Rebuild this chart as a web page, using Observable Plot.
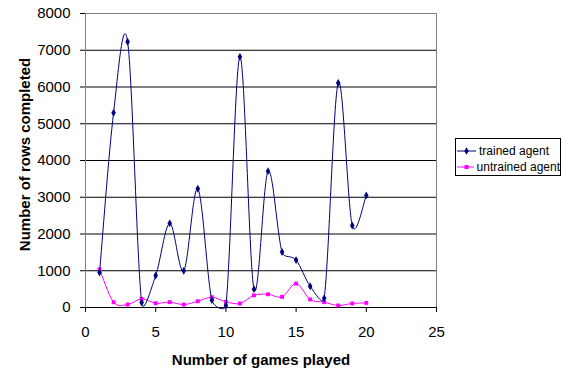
<!DOCTYPE html>
<html>
<head>
<meta charset="utf-8">
<script src="https://cdn.jsdelivr.net/npm/d3@7"></script>
<script src="https://cdn.jsdelivr.net/npm/@observablehq/plot@0.6"></script>
<style>
  html, body { margin: 0; padding: 0; background: #fff; }
  #wrap { position: relative; width: 564px; height: 371px; font-family: "Liberation Sans", Arial, sans-serif; }
  #legend { position: absolute; left: 455px; top: 138px; width: 106px; height: 38px; border: 1px solid #000;
            box-sizing: border-box; background: #fff; font-size: 12px; color: #000; padding-top: 4px; }
  #legend .row { display: flex; align-items: center; height: 16px; white-space: nowrap; }
  #legend svg { margin-left: 1px; margin-right: 3px; }
</style>
</head>
<body>
<div id="wrap"></div>
<script>
// Games played and rows completed per game
const games = [1, 2, 3, 4, 5, 6, 7, 8, 9, 10, 11, 12, 13, 14, 15, 16, 17, 18, 19, 20];
const trained = [950, 5300, 7230, 136, 870, 2290, 1000, 3230, 200, 55, 6820, 500, 3710, 1510, 1290, 580, 250, 6110, 2230, 3050];
const untrained = [1040, 145, 80, 235, 115, 145, 80, 170, 280, 155, 110, 330, 360, 290, 650, 220, 145, 55, 110, 125];

const xTicks = [0, 5, 10, 15, 20, 25];
const yTicks = [0, 1000, 2000, 3000, 4000, 5000, 6000, 7000, 8000];

const seriesNames = ["trained agent", "untrained agent"];
const seriesColors = ["#000080", "#ff00ff"];
const seriesSymbols = ["diamond", "square"];

const rows = games.map((g, i) => ({game: g, trained: trained[i], untrained: untrained[i]}));

// Smoothed line: cubic Bezier segments whose handles follow the neighbouring
// points (1/6 of the chord), with each handle capped relative to its segment
// so sharp drops don't swing far past the data.
function SmoothCapped(context) { this._context = context; }
SmoothCapped.prototype = {
  areaStart() { this._line = 0; },
  areaEnd() { this._line = NaN; },
  lineStart() { this._pts = []; },
  point(x, y) { this._pts.push([+x, +y]); },
  lineEnd() {
    const p = this._pts, n = p.length, c = this._context, cap = 0.47;
    if (!n) return;
    c.moveTo(p[0][0], p[0][1]);
    if (n === 1) return;
    const handle = (a, b, seg) => {
      let hx = (b[0] - a[0]) / 6, hy = (b[1] - a[1]) / 6;
      const len = Math.hypot(hx, hy), max = cap * seg;
      if (len > max && len > 0) { hx *= max / len; hy *= max / len; }
      return [hx, hy];
    };
    for (let i = 0; i < n - 1; ++i) {
      const p0 = p[Math.max(i - 1, 0)], p1 = p[i], p2 = p[i + 1], p3 = p[Math.min(i + 2, n - 1)];
      const seg = Math.hypot(p2[0] - p1[0], p2[1] - p1[1]);
      const h1 = handle(p0, p2, seg), h2 = handle(p1, p3, seg);
      c.bezierCurveTo(p1[0] + h1[0], p1[1] + h1[1], p2[0] - h2[0], p2[1] - h2[1], p2[0], p2[1]);
    }
  }
};
const smooth = (context) => new SmoothCapped(context);

const chart = Plot.plot({
  width: 564,
  height: 371,
  marginLeft: 85,
  marginRight: 128,
  marginTop: 13,
  marginBottom: 64,
  style: {fontFamily: "'Liberation Sans', Arial, sans-serif", fontSize: "15px", color: "#000", background: "#fff", overflow: "visible"},
  x: {domain: [0, 25]},
  y: {domain: [0, 8000]},
  marks: [
    Plot.ruleY(yTicks.slice(1, -1), {stroke: "#000", strokeWidth: 1}),
    Plot.frame({stroke: "#808080", strokeWidth: 1}),
    Plot.axisX({ticks: xTicks, tickSize: 5, tickPadding: 14, label: null, stroke: "#000", fontSize: 15}),
    Plot.axisY({ticks: yTicks, tickSize: 5, tickPadding: 10, tickFormat: d3.format("d"), label: null, stroke: "#000", fontSize: 15}),
    Plot.ruleY([0], {stroke: "#000", strokeWidth: 1}),
    Plot.ruleX([0], {stroke: "#808080", strokeWidth: 1}),
    Plot.line(rows, {x: "game", y: "untrained", curve: smooth, stroke: seriesColors[1], strokeWidth: 1}),
    Plot.dot(rows, {x: "game", y: "untrained", symbol: seriesSymbols[1], r: 2.2, fill: seriesColors[1], stroke: "none"}),
    Plot.line(rows, {x: "game", y: "trained", curve: smooth, stroke: seriesColors[0], strokeWidth: 1}),
    Plot.dot(rows, {x: "game", y: "trained", symbol: seriesSymbols[0], r: 2.4, fill: seriesColors[0], stroke: "none"}),
    Plot.text(["Number of games played"], {frameAnchor: "bottom", dy: 53, fontWeight: "bold", fontSize: 15, lineAnchor: "middle"}),
    Plot.text(["Number of rows completed"], {frameAnchor: "left", dx: -60, dy: -6, rotate: -90, textAnchor: "middle", fontWeight: "bold", fontSize: 15, lineAnchor: "middle"})
  ]
});

const wrap = document.getElementById("wrap");
wrap.appendChild(chart);

// Legend box with line-and-marker swatches
const legend = document.createElement("div");
legend.id = "legend";
seriesNames.forEach((name, i) => {
  const row = document.createElement("div");
  row.className = "row";
  const sw = d3.create("svg").attr("width", 19).attr("height", 10);
  sw.append("line").attr("x1", 0).attr("x2", 19).attr("y1", 5).attr("y2", 5)
    .attr("stroke", seriesColors[i]).attr("stroke-width", 1);
  const sym = seriesSymbols[i] === "square" ? d3.symbolSquare : d3.symbolDiamond;
  sw.append("path").attr("transform", "translate(9.5,5)")
    .attr("d", d3.symbol(sym, 16)()).attr("fill", seriesColors[i]);
  row.appendChild(sw.node());
  const label = document.createElement("span");
  label.textContent = name;
  row.appendChild(label);
  legend.appendChild(row);
});
wrap.appendChild(legend);
</script>
</body>
</html>
